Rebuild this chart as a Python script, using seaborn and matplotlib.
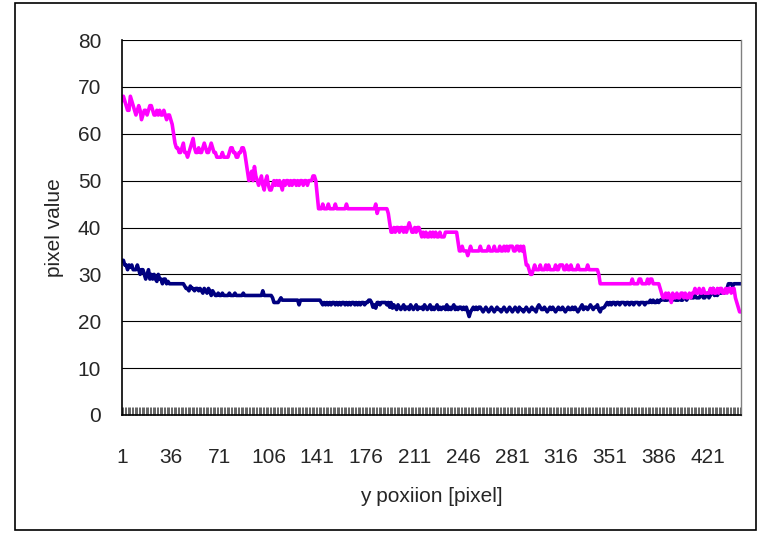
import numpy as np
import pandas as pd
import matplotlib
matplotlib.use("Agg")
import matplotlib.pyplot as plt
import seaborn as sns
from matplotlib.patches import Rectangle

# ==========================================================
# DATA
# ==========================================================

magenta_values = [
    67, 68, 67, 66, 65, 65, 68, 67, 66, 65, 64, 65, 66, 65, 63, 64, 65, 65, 64, 65,
    66, 66, 65, 64, 64, 65, 64, 65, 64, 64, 65, 64, 63, 64, 64, 63, 62, 60, 58, 57,
    57, 56, 56, 57, 58, 56, 56, 55, 56, 57, 58, 59, 57, 56, 56, 57, 56, 56, 57, 58,
    57, 56, 56, 57, 58, 57, 56, 56, 55, 55, 55, 55, 56, 55, 55, 55, 55, 56, 57, 57,
    56, 56, 55, 55, 56, 56, 57, 57, 56, 54, 52, 50, 51, 52, 50, 53, 51, 50, 49, 50,
    51, 49, 48, 50, 51, 49, 48, 48, 49, 50, 49, 50, 49, 50, 49, 48, 50, 49, 50, 50,
    49, 50, 49, 50, 50, 49, 50, 49, 50, 50, 49, 50, 50, 49, 50, 50, 50, 51, 51, 50,
    47, 44, 44, 44, 45, 44, 44, 44, 45, 44, 44, 44, 44, 45, 44, 44, 44, 44, 44, 44,
    44, 45, 44, 44, 44, 44, 44, 44, 44, 44, 44, 44, 44, 44, 44, 44, 44, 44, 44, 44,
    44, 44, 45, 43, 44, 44, 44, 44, 44, 44, 44, 43, 41, 39, 39, 40, 39, 40, 40, 39,
    40, 40, 39, 40, 39, 40, 41, 40, 39, 39, 40, 39, 40, 40, 39, 38, 39, 38, 39, 38,
    38, 39, 38, 39, 38, 39, 38, 38, 39, 38, 38, 38, 39, 39, 39, 39, 39, 39, 39, 39,
    39, 37, 35, 35, 36, 35, 35, 35, 34, 35, 36, 35, 35, 35, 35, 35, 35, 36, 35, 35,
    35, 35, 35, 36, 35, 35, 35, 36, 35, 35, 35, 36, 35, 35, 36, 35, 36, 35, 36, 36,
    36, 35, 35, 36, 36, 35, 36, 35, 36, 34, 32, 32, 31, 30, 30, 31, 32, 31, 31, 31,
    32, 31, 31, 31, 32, 31, 32, 31, 31, 31, 31, 32, 31, 31, 32, 32, 32, 31, 31, 32,
    31, 31, 32, 31, 31, 31, 31, 32, 31, 31, 31, 31, 31, 31, 32, 31, 31, 31, 31, 31,
    31, 31, 30, 28, 28, 28, 28, 28, 28, 28, 28, 28, 28, 28, 28, 28, 28, 28, 28, 28,
    28, 28, 28, 28, 28, 28, 29, 28, 28, 28, 28, 29, 29, 28, 28, 28, 28, 29, 28, 29,
    29, 28, 28, 28, 28, 28, 27, 26, 25, 25, 26, 25, 26, 25, 24, 26, 25, 25, 26, 25,
    25, 26, 26, 25, 26, 25, 25, 26, 25, 26, 26, 27, 26, 26, 27, 26, 26, 27, 26, 26,
    26, 26, 27, 26, 27, 26, 26, 27, 26, 27, 27, 26, 26, 27, 26, 27, 27, 26, 27, 27,
    25, 24, 23, 22, 22,
]

navy_values = [
    33, 33, 32, 32, 31, 32, 31.5, 32, 31, 31, 31, 32, 31, 30, 31, 31, 30, 29, 30, 31,
    29, 30, 29, 30, 29, 28.5, 30, 29, 29, 28, 29, 29, 28, 28.5, 28, 28, 28, 28, 28, 28,
    28, 28, 28, 28, 28, 27.5, 27, 27, 26.5, 27.5, 27, 27, 26.5, 27, 27, 26.5, 27, 26.5, 26, 27,
    26.5, 26, 27, 26.5, 25.5, 26.5, 26, 25.5, 25.5, 26, 25.5, 25.5, 26, 25.5, 25.5, 25.5, 25.5, 26, 25.5, 25.5,
    25.5, 26, 25.5, 25.5, 25.5, 25.5, 25.5, 26, 25.5, 25.5, 25.5, 25.5, 25.5, 25.5, 25.5, 25.5, 25.5, 25.5, 25.5, 25.5,
    25.5, 26.5, 25.5, 25.5, 25.5, 25.5, 25.5, 25.5, 25, 24, 24, 24, 24, 24.5, 25, 24.5, 24.5, 24.5, 24.5, 24.5,
    24.5, 24.5, 24.5, 24.5, 24.5, 24.5, 24.5, 23.5, 24.5, 24.5, 24.5, 24.5, 24.5, 24.5, 24.5, 24.5, 24.5, 24.5, 24.5, 24.5,
    24.5, 24.5, 24.5, 24, 23.5, 24, 23.5, 24, 23.5, 24, 23.5, 24, 24, 23.5, 24, 23.5, 24, 23.5, 24, 24,
    23.5, 24, 23.5, 24, 23.5, 24, 24, 23.5, 24, 23.5, 24, 23.5, 24, 24, 23.5, 24, 24, 24.5, 24.5, 24,
    23, 23.5, 22.8, 24, 24, 23.5, 24, 24, 24, 24, 23.5, 24, 23, 24, 22.8, 23.5, 23, 22.5, 23.5, 23,
    22.5, 23, 23.5, 22.5, 23, 23, 22.5, 23.5, 23, 22.5, 23, 23.5, 22.5, 23, 22.8, 23, 22.5, 23.5, 23, 22.5,
    23, 23.5, 22.5, 23, 22.5, 23, 23.5, 22.5, 23, 22.5, 23, 23, 22.5, 23.5, 22.5, 23, 22.5, 23, 23.5, 22.5,
    23, 22.5, 23, 23, 22.5, 23, 22.5, 23, 22, 21, 22, 22.5, 23, 22.5, 23, 22.5, 23, 23, 22.5, 22,
    22.5, 23, 22.5, 22, 22.5, 23, 22.5, 22, 22.5, 23, 22.5, 22.5, 22, 22.5, 23, 22.5, 22, 22.5, 23, 22.5,
    22, 22.5, 23, 22.5, 22, 23, 22.5, 22.5, 22, 22.5, 23, 22.5, 22, 22.5, 23, 22.5, 22.5, 22, 23, 23.5,
    23, 22.5, 22.5, 23, 22.5, 22, 22.5, 23, 22.5, 23, 22.5, 22, 22.5, 23, 22.5, 22.5, 23, 22.5, 22, 22.5,
    23, 22.5, 22.5, 23, 22.5, 23, 22.5, 22, 22.5, 23, 23.5, 22.5, 23, 23, 22.5, 23, 23.5, 23, 22.5, 23,
    23, 23.5, 22.5, 22, 22.8, 22.8, 23, 23.5, 24, 23.5, 24, 23.5, 24, 24, 23.5, 24, 24, 23.5, 24, 24,
    24, 23.5, 24, 24, 23.5, 24, 24, 23.5, 24, 24, 24, 23.5, 24, 24, 24, 23.5, 24, 24, 24, 24.5,
    24, 24.5, 24, 24, 24.5, 24, 24.5, 24.5, 25, 24.5, 24.5, 24.5, 25, 24.5, 24.5, 24.5, 25, 24.5, 24.5, 24.5,
    25, 24.5, 24.5, 25, 25, 24.5, 25, 25.5, 25, 25, 25, 25.5, 25, 25, 25, 25.5, 26, 25, 25, 25.5,
    26, 25, 25.5, 26, 27, 25.5, 26, 25.5, 26, 26, 26, 26.5, 26, 26.5, 27, 28, 28, 28, 27.5, 28,
    28, 28, 28, 28, 28,
]

y_ticks = [0, 10, 20, 30, 40, 50, 60, 70, 80]
label_step = 35

positions = np.arange(1, len(magenta_values) + 1)

df = pd.DataFrame({
    "position": positions,
    "magenta": magenta_values,
    "navy": navy_values,
})

# ==========================================================
# PLOT
# ==========================================================

sns.set_style("white")
plt.rcParams["font.family"] = ["Liberation Sans", "DejaVu Sans"]

fig = plt.figure(figsize=(7.6, 5.33), dpi=100)
ax = fig.add_axes([122 / 760, 1 - 415 / 533, (741 - 122) / 760, (415 - 40) / 533])

sns.lineplot(data=df, x="position", y="navy", color="#000080", linewidth=2.6, ax=ax)
sns.lineplot(data=df, x="position", y="magenta", color="#FF00FF", linewidth=2.6, ax=ax)

ax.set_xlim(1, len(positions))
ax.set_ylim(0, 80)

# y axis
ax.set_yticks(y_ticks)
ax.yaxis.grid(True, color="#000000", linewidth=0.8)
ax.tick_params(axis="y", length=0, pad=15, labelsize=15)

# x axis: a tick for every category, labels every 35
ax.set_xticks(positions)
ax.set_xticklabels([str(p) if (p - 1) % label_step == 0 else "" for p in positions])
ax.tick_params(axis="x", direction="in", length=6, width=0.5, pad=24, labelsize=15,
               bottom=True)

ax.set_xlabel("y poxiion [pixel]", fontsize=15, labelpad=14)
ax.set_ylabel("pixel value", fontsize=15, labelpad=10)

for side in ["left", "bottom"]:
    ax.spines[side].set_color("black")
    ax.spines[side].set_linewidth(1.2)
ax.spines["top"].set_visible(False)
ax.spines["right"].set_color("#808080")
ax.spines["right"].set_linewidth(1.0)

# outer chart border
fig.patches.append(Rectangle((15 / 760, 1 - 530 / 533), (756 - 15) / 760, (530 - 3) / 533,
                             transform=fig.transFigure, fill=False,
                             edgecolor="black", linewidth=1.2))

fig.savefig("out.png", dpi=100)
